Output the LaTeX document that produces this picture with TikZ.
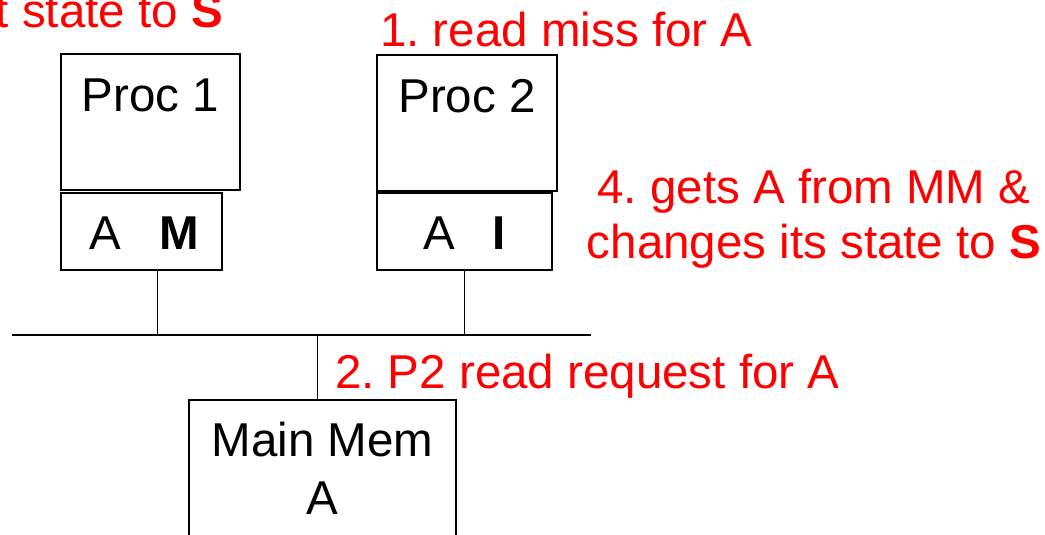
\documentclass[tikz,border=0pt]{standalone}
\usepackage{fontspec}
\setmainfont{Liberation Sans}
\usetikzlibrary{calc}
\frenchspacing
\tikzstyle{procbox} = [draw, line width=2pt, anchor=north west,
    inner xsep=0pt, inner ysep=0pt, text height=58pt, text depth=78pt]
\tikzstyle{cachebox} = [draw, line width=2pt, anchor=north west,
    inner xsep=0pt, inner ysep=0pt, text height=56pt, text depth=21pt]
\tikzstyle{membox} = [draw, line width=2pt, anchor=north, align=center,
    minimum width=267pt, inner ysep=0pt, text height=114pt, text depth=100pt]
\tikzstyle{note} = [text=red, inner sep=0pt]
\tikzset{bus/.style={line width=2.5pt}, wire/.style={line width=1.5pt}}

\begin{document}
\begin{tikzpicture}[x=1pt, y=-1pt, font=\fontsize{47.5}{55}\selectfont]
    \useasboundingbox (0,0) rectangle (1045,535);
    %boxes
    \node[procbox, minimum width=179pt] (p1) at (60,53) {Proc 1};
    \node[procbox, minimum width=180pt] (p2) at (376,54) {Proc 2};
    \node[cachebox, minimum width=161pt] (c1) at (60,192) {\hspace{6pt}A\hspace{0.8em}\textbf{M}};
    \node[cachebox, minimum width=175pt] (c2) at (376,192) {A\hspace{0.8em}\textbf{I}};
    \node[membox] (mm) at (322.5,399) {Main Mem\\[3pt]A};
    %bus
    \coordinate (busl) at (12,335);
    \coordinate (busr) at (591,335);
    \draw[bus] (busl) -- (busr);
    \draw[wire] ([xshift=16pt]c1.south) -- ([xshift=16pt]c1.south |- busl);
    \draw[wire] (c2.south) -- (c2.south |- busl);
    \draw[wire] ([xshift=-5pt]mm.north) -- ([xshift=-5pt]mm.north |- busl);
    %notes
    \node[note, anchor=base east] (n3) at (223,28) {t state to \textbf{S}};
    \node[note, anchor=base west] (n1) at (380,47) {1. read miss for A};
    \node[note, anchor=base west] (n2) at (335,388) {2. P2 read request for A};
    \node[note, align=center, anchor=base] (n4) at (814,258)
        {4. gets A from MM \&\\changes its state to \textbf{S}};
\end{tikzpicture}
\end{document}
